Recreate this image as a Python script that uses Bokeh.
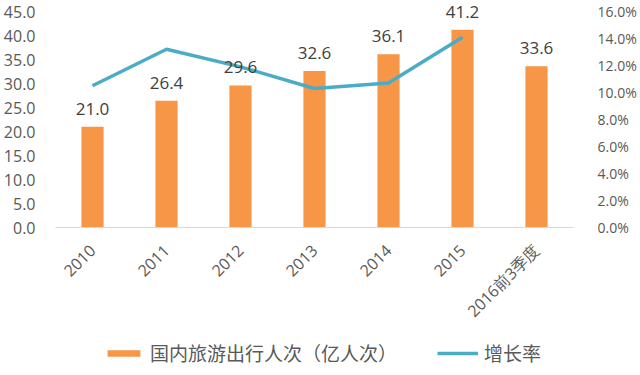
import math
from bokeh.plotting import figure
from bokeh.layouts import column
from bokeh.models import (ColumnDataSource, Range1d, LinearAxis, FixedTicker,
                          NumeralTickFormatter, Legend, LegendItem)
from bokeh.core.properties import value
from bokeh.embed import file_html
from bokeh.resources import INLINE

categories = ["2010", "2011", "2012", "2013", "2014", "2015", "2016前3季度"]
trips = [21.0, 26.4, 29.6, 32.6, 36.1, 41.2, 33.6]
trip_labels = ["21.0", "26.4", "29.6", "32.6", "36.1", "41.2", "33.6"]
rate_years = ["2010", "2011", "2012", "2013", "2014", "2015"]
growth = [0.105, 0.132, 0.119, 0.103, 0.107, 0.141]
left_ticks = [0, 5, 10, 15, 20, 25, 30, 35, 40, 45]
right_ticks = [0.0, 0.02, 0.04, 0.06, 0.08, 0.10, 0.12, 0.14, 0.16]
legend_labels = ["国内旅游出行人次（亿人次）", "增长率"]

bar_src = ColumnDataSource(dict(x=categories, top=trips, label=trip_labels))
line_src = ColumnDataSource(dict(x=rate_years, y=growth))

FONT = "Open Sans"
ORANGE = "#F79646"
TEAL = "#4BACC6"
GRAY = "#595959"

# frame: 225 px tall; tick 45 / 16% sits 9 px below frame top
FRAME_H = 225
TICK_SPAN = 216

p = figure(x_range=categories,
           y_range=Range1d(0, 45 * FRAME_H / TICK_SPAN),
           frame_width=518, height=340,
           output_backend="svg", toolbar_location=None,
           min_border_left=46, min_border_right=60, min_border_top=2,
           min_border_bottom=340 - 2 - FRAME_H)
p.outline_line_color = None
p.background_fill_color = "white"
p.border_fill_color = "white"
p.xgrid.visible = False
p.ygrid.visible = False
p.x_range.range_padding = 0.0

p.extra_y_ranges = {"pct": Range1d(0, 0.16 * FRAME_H / TICK_SPAN)}

p.vbar(x="x", top="top", width=0.3, source=bar_src, color=ORANGE, line_color=None)
p.line(x="x", y="y", source=line_src, y_range_name="pct", line_color=TEAL,
       line_width=3.5, line_join="round")

p.text(x="x", y="top", text="label", source=bar_src, text_align="center",
       text_baseline="bottom", y_offset=-12, text_font=value(FONT),
       text_font_size="17px", text_color="#404040")

# left axis
ya = p.yaxis[0]
ya.ticker = FixedTicker(ticks=left_ticks)
ya.formatter = NumeralTickFormatter(format="0.0")
ya.axis_line_color = None
ya.major_tick_line_color = None
ya.minor_tick_line_color = None
ya.major_label_text_font = FONT
ya.major_label_text_font_size = "16px"
ya.major_label_text_color = GRAY
ya.major_label_standoff = 14

# right axis
ra = LinearAxis(y_range_name="pct", ticker=FixedTicker(ticks=right_ticks),
                formatter=NumeralTickFormatter(format="0.0%"))
ra.axis_line_color = None
ra.major_tick_line_color = None
ra.minor_tick_line_color = None
ra.major_label_text_font = FONT
ra.major_label_text_font_size = "14px"
ra.major_label_text_color = GRAY
ra.major_label_standoff = 18
p.add_layout(ra, "right")

# x axis
xa = p.xaxis[0]
xa.axis_line_color = "#D9D9D9"
xa.axis_line_width = 1
xa.major_tick_line_color = None
xa.minor_tick_line_color = None
xa.major_label_orientation = math.pi / 4
xa.major_label_text_font = FONT
xa.major_label_text_font_size = "16px"
xa.major_label_text_color = GRAY
xa.major_label_standoff = 14

# legend strip (glyphs out of view; only the legend shows)
lg = figure(x_range=categories, y_range=Range1d(1000, 1001), width=624, height=30,
            output_backend="svg", toolbar_location=None,
            x_axis_location=None, y_axis_location=None,
            min_border_left=0, min_border_right=0, min_border_top=0, min_border_bottom=0)
lg.grid.visible = False
lg.outline_line_color = None
lbar = lg.vbar(x="x", top="top", width=0.3, source=bar_src, color=ORANGE, line_color=None)
lline = lg.line(x="x", y="y", source=line_src, line_color=TEAL, line_width=3.5)

legend = Legend(items=[LegendItem(label=legend_labels[0], renderers=[lbar]),
                       LegendItem(label=legend_labels[1], renderers=[lline])],
                orientation="horizontal", location=(48, 4),
                label_text_font="Noto Sans CJK SC", label_text_font_size="19px",
                label_text_color=GRAY, glyph_width=41, glyph_height=8,
                label_standoff=6, spacing=40, border_line_color=None,
                background_fill_alpha=0, padding=0, margin=0)
lg.add_layout(legend, "center")

open("out.html", "w").write(file_html(column(p, lg, spacing=0), INLINE))
